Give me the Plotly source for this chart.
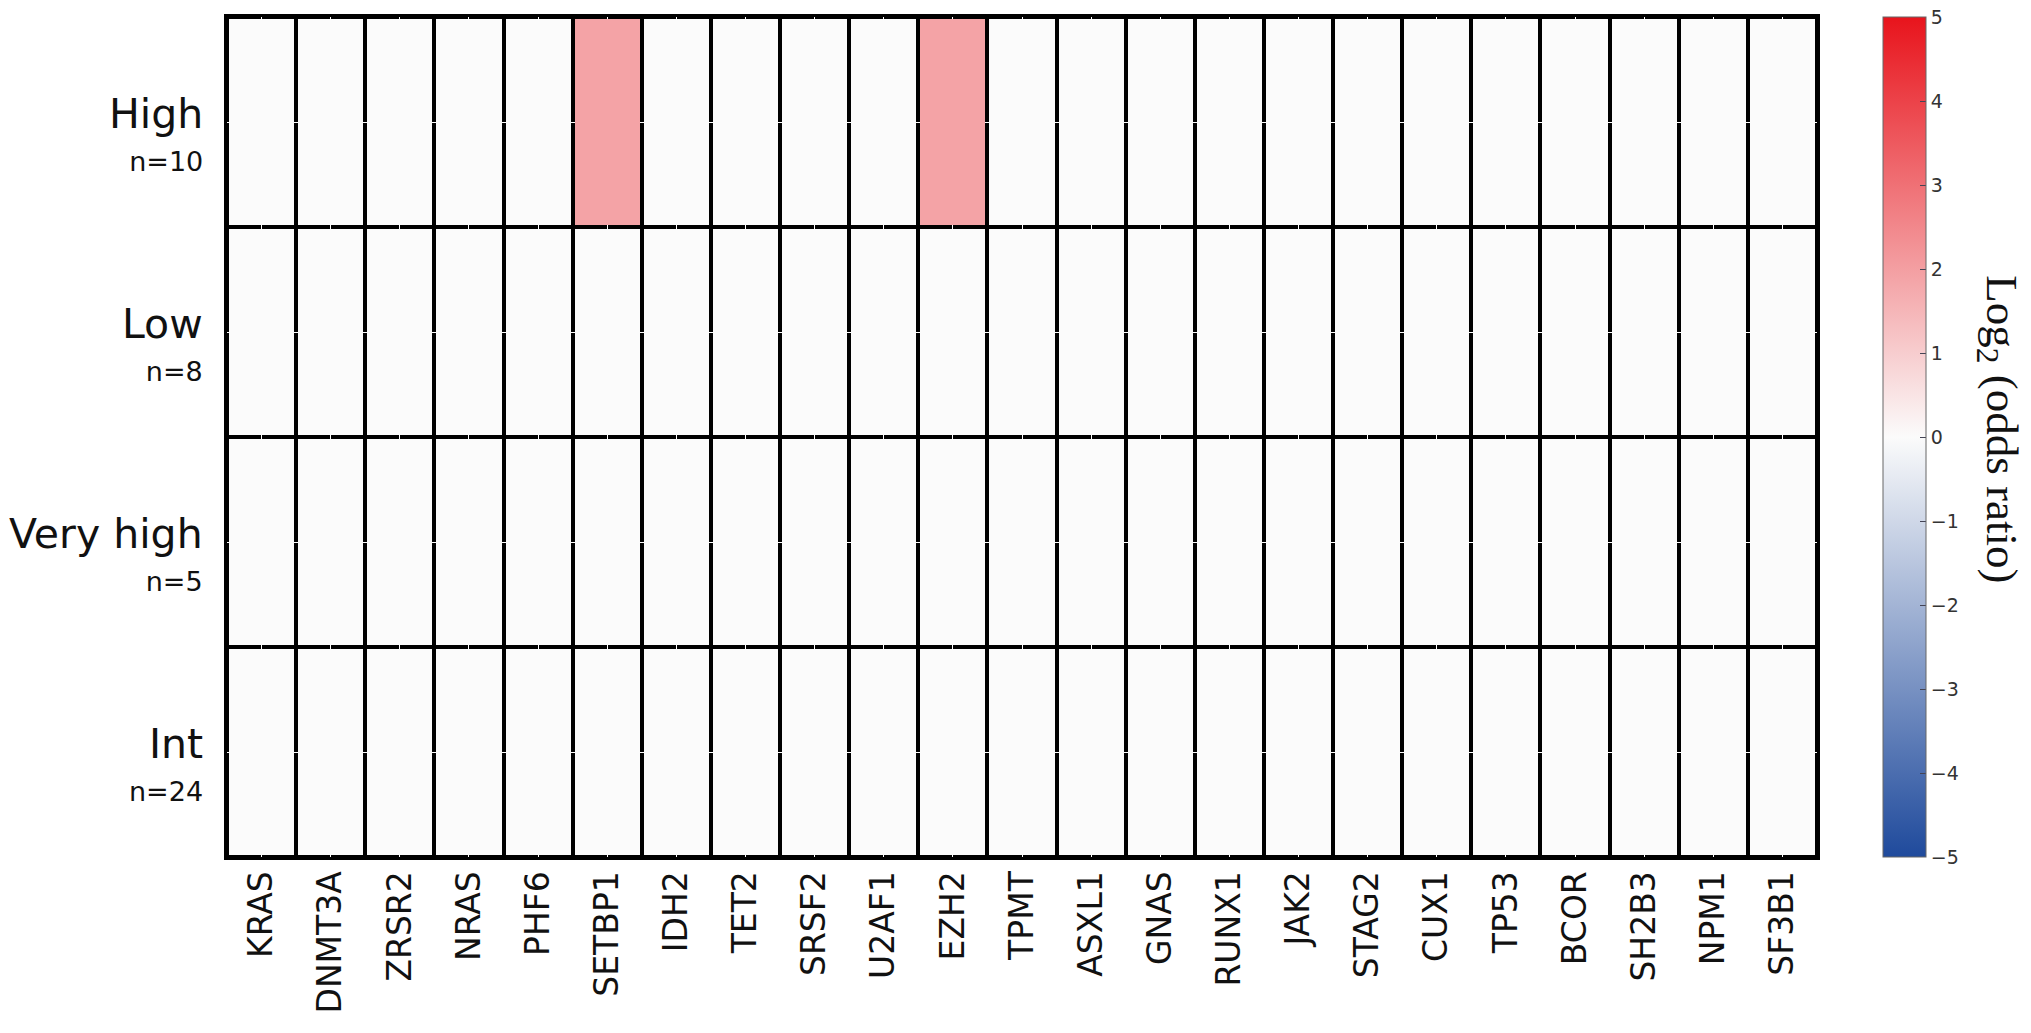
import plotly.graph_objects as go

genes = ["KRAS", "DNMT3A", "ZRSR2", "NRAS", "PHF6", "SETBP1", "IDH2", "TET2",
         "SRSF2", "U2AF1", "EZH2", "TPMT", "ASXL1", "GNAS", "RUNX1", "JAK2",
         "STAG2", "CUX1", "TP53", "BCOR", "SH2B3", "NPM1", "SF3B1"]
groups = ["High", "Low", "Very high", "Int"]
group_n = [10, 8, 5, 24]

# log2 odds ratio per group (rows) x gene (cols)
high_vals = [0, 0, 0, 0, 0, 1.9, 0, 0, 0, 0, 1.9, 0, 0, 0, 0, 0, 0, 0, 0, 0, 0, 0, 0]
low_vals = [0] * 23
very_high_vals = [0] * 23
int_vals = [0] * 23
z = [high_vals, low_vals, very_high_vals, int_vals]

cbar_ticks = [-5, -4, -3, -2, -1, 0, 1, 2, 3, 4, 5]
cbar_text = [str(t).replace("-", "\u2212") for t in cbar_ticks]

fig = go.Figure(go.Heatmap(
    z=z, x=genes, y=groups,
    zmin=-5, zmax=5,
    colorscale=[[0, "#1f4a9c"], [0.5, "#fbfbfb"], [1, "#e8141c"]],
    xgap=4, ygap=4,
    colorbar=dict(
        tickvals=cbar_ticks, ticktext=cbar_text, ticklabeloverflow="allow",
        ticks="inside", ticklen=6, tickcolor="#445",
        tickfont=dict(family="DejaVu Sans", size=19, color="#333"),
        thickness=43, len=1.0, xpad=0, ypad=0,
        x=1.0415, xanchor="left", y=0.5, yanchor="middle",
        outlinewidth=1, outlinecolor="#666",
    ),
))

# row labels: group name with sample count underneath
for g, n in zip(groups, group_n):
    fig.add_annotation(
        text=f"<span style='font-size:41px'>{g}</span><br><span style='font-size:27px'>n={n}</span>",
        x=0, xref="paper", y=g, yref="y", xanchor="right", yanchor="middle",
        xshift=-22, yshift=-11, align="right", showarrow=False,
        font=dict(family="DejaVu Sans", size=33, color="#111"),
    )

fig.add_annotation(
    text="Log<sub>2</sub> (odds ratio)", textangle=90,
    x=1.114, y=0.509, xref="paper", yref="paper", xanchor="center", yanchor="middle",
    showarrow=False,
    font=dict(family="Liberation Serif", size=45, color="#111"),
)

fig.update_xaxes(
    tickangle=-90, tickfont=dict(family="DejaVu Sans", size=33, color="#111"),
    showline=True, linecolor="black", linewidth=3, mirror=True,
    ticks="", ticklabelstandoff=-2,
)
fig.update_yaxes(
    autorange="reversed", showticklabels=False,
    showline=True, linecolor="black", linewidth=3, mirror=True, ticks="",
)

fig.update_layout(
    width=2031, height=1033,
    margin=dict(l=219, r=222, t=6, b=184),
    plot_bgcolor="black", paper_bgcolor="white",
)

fig.write_html("out.html")
